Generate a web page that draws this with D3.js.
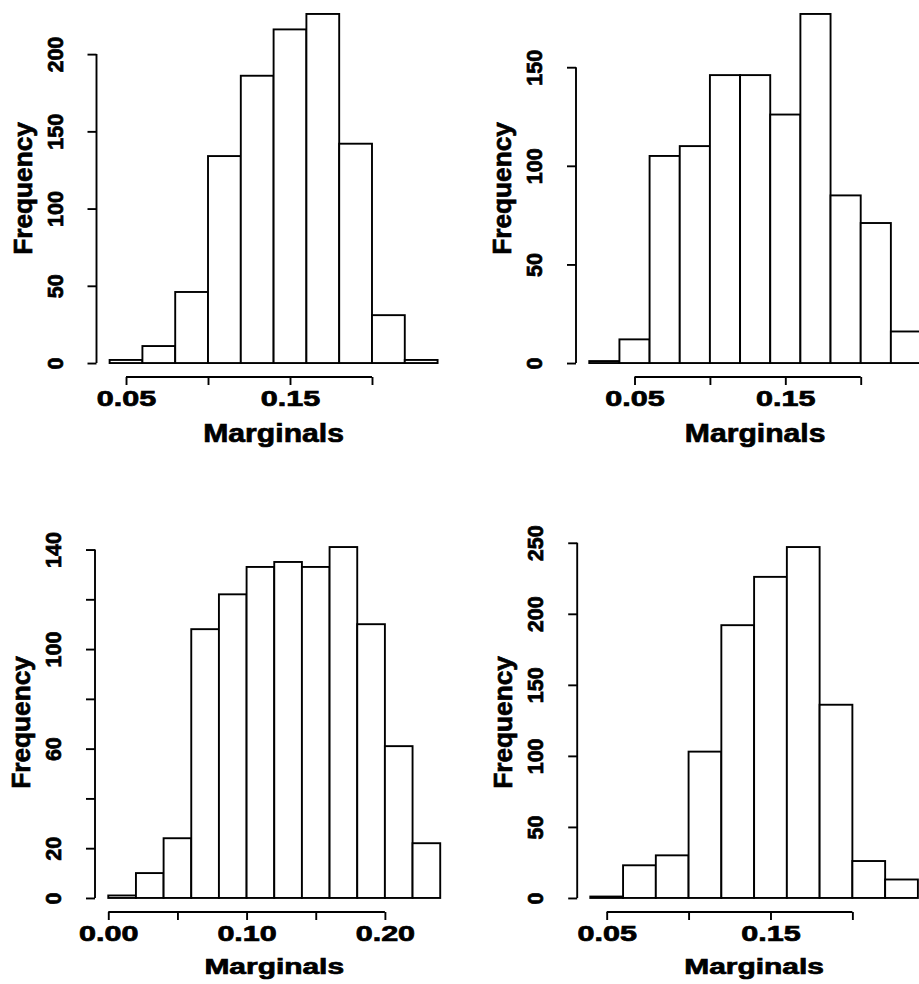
<!DOCTYPE html>
<html>
<head>
<meta charset="utf-8">
<script src="https://cdn.jsdelivr.net/npm/d3@7"></script>
<style>
  body { margin: 0; background: #fff; }
  svg { display: block; }
  text { font-family: "Liberation Sans", Arial, sans-serif; font-weight: bold; fill: #000; stroke: #000; stroke-width: 0.7; }
</style>
</head>
<body>
<svg id="chart" width="919" height="984"></svg>
<script>
// histogram data, bin edges + counts
const edgesA = [0.04, 0.06, 0.08, 0.10, 0.12, 0.14, 0.16, 0.18, 0.20, 0.22, 0.24];
const countsA = [2, 11, 46, 134, 186, 216, 226, 142, 31, 2];

const edgesB = [0.02, 0.04, 0.06, 0.08, 0.10, 0.12, 0.14, 0.16, 0.18, 0.20, 0.22, 0.24];
const countsB = [1, 12, 105, 110, 146, 146, 126, 177, 85, 71, 16];

const edgesC = [0.00, 0.02, 0.04, 0.06, 0.08, 0.10, 0.12, 0.14, 0.16, 0.18, 0.20, 0.22, 0.24];
const countsC = [1, 10, 24, 108, 122, 133, 135, 133, 141, 110, 61, 22];

const edgesD = [0.04, 0.06, 0.08, 0.10, 0.12, 0.14, 0.16, 0.18, 0.20, 0.22, 0.24];
const countsD = [1, 23, 30, 103, 192, 226, 247, 136, 26, 13];

// axis ticks and their labels (empty = tick without label, like R drops overlapping ones)
const xTicksA = [0.05, 0.10, 0.15, 0.20], xLabelsA = ["0.05", "", "0.15", ""];
const xTicksC = [0.00, 0.05, 0.10, 0.15, 0.20], xLabelsC = ["0.00", "", "0.10", "", "0.20"];
const yTicksA = [0, 50, 100, 150, 200], yLabelsA = ["0", "50", "100", "150", "200"];
const yTicksB = [0, 50, 100, 150], yLabelsB = ["0", "50", "100", "150"];
const yTicksC = [0, 20, 40, 60, 80, 100, 120, 140], yLabelsC = ["0", "20", "", "60", "", "100", "", "140"];
const yTicksD = [0, 50, 100, 150, 200, 250], yLabelsD = ["0", "50", "100", "150", "200", "250"];

const xTitle = "Marginals";
const yTitle = "Frequency";

// plot regions (R's "plt" area for each panel of the 2x2 layout)
const panels = [
  { edges: edgesA, counts: countsA, xt: xTicksA, xl: xLabelsA, yt: yTicksA, yl: yLabelsA,
    left: 96.5, right: 450.7, top: 0, bottom: 377, titleGap: 65, titleSize: 26, titleScale: 1.16 },
  { edges: edgesB, counts: countsB, xt: xTicksA, xl: xLabelsA, yt: yTicksB, yl: yLabelsB,
    left: 576, right: 934.3, top: 0, bottom: 377, titleGap: 65, titleSize: 26, titleScale: 1.16 },
  { edges: edgesC, counts: countsC, xt: xTicksC, xl: xLabelsC, yt: yTicksC, yl: yLabelsC,
    left: 95, right: 453.5, top: 533, bottom: 912, titleGap: 61.5, titleSize: 22, titleScale: 1.36 },
  { edges: edgesD, counts: countsD, xt: xTicksA, xl: xLabelsA, yt: yTicksD, yl: yLabelsD,
    left: 577.2, right: 931, top: 533, bottom: 912, titleGap: 61.5, titleSize: 22, titleScale: 1.36 }
];

const svg = d3.select("#chart");
svg.append("rect").attr("width", 919).attr("height", 984).attr("fill", "#fff");

const LW = 1.9;

panels.forEach(p => drawPanel(p));

function drawPanel(p) {
  const lo = p.edges[0], hi = p.edges[p.edges.length - 1];
  const pad = (hi - lo) * 0.04;
  const x = d3.scaleLinear().domain([lo - pad, hi + pad]).range([p.left, p.right]);
  const ymax = d3.max(p.counts);
  const y = d3.scaleLinear().domain([-0.04 * ymax, ymax * 1.04]).range([p.bottom, p.top]);

  const g = svg.append("g");

  // bars
  const bins = p.counts.map((c, i) => ({ x0: p.edges[i], x1: p.edges[i + 1], n: c }));
  g.selectAll("rect.bar")
    .data(bins)
    .join("rect")
    .attr("class", "bar")
    .attr("x", d => x(d.x0))
    .attr("width", d => x(d.x1) - x(d.x0))
    .attr("y", d => y(d.n))
    .attr("height", d => y(0) - y(d.n))
    .attr("fill", "#fff")
    .attr("stroke", "#000")
    .attr("stroke-width", LW);

  // x axis, R style: line only from first to last tick
  const xAxis = d3.axisBottom(x)
    .tickValues(p.xt)
    .tickSize(8)
    .tickFormat((d, i) => p.xl[i]);
  const xg = g.append("g")
    .attr("transform", `translate(0,${p.bottom})`)
    .call(xAxis);
  xg.select(".domain").remove();
  xg.selectAll(".tick line").attr("stroke", "#000").attr("stroke-width", LW);
  xg.append("line")
    .attr("x1", x(p.xt[0])).attr("x2", x(p.xt[p.xt.length - 1]))
    .attr("stroke", "#000").attr("stroke-width", LW);
  xg.selectAll(".tick text")
    .attr("y", 29.5)
    .attr("dy", null)
    .attr("font-size", 21.5)
    .attr("transform", "scale(1.42,1)");

  // y axis with rotated labels
  const yAxis = d3.axisLeft(y)
    .tickValues(p.yt)
    .tickSize(9)
    .tickFormat((d, i) => p.yl[i]);
  const yg = g.append("g")
    .attr("transform", `translate(${p.left},0)`)
    .call(yAxis);
  yg.select(".domain").remove();
  yg.selectAll(".tick line").attr("stroke", "#000").attr("stroke-width", LW);
  yg.append("line")
    .attr("y1", y(p.yt[0])).attr("y2", y(p.yt[p.yt.length - 1]))
    .attr("stroke", "#000").attr("stroke-width", LW);
  yg.selectAll(".tick text")
    .attr("x", null)
    .attr("dy", null)
    .attr("text-anchor", "middle")
    .attr("font-size", 21.5)
    .attr("transform", "translate(-34,0) rotate(-90)");

  // axis titles
  g.append("text")
    .attr("text-anchor", "middle")
    .attr("font-size", p.titleSize)
    .attr("transform", `translate(${(p.left + p.right) / 2},${p.bottom + p.titleGap}) scale(${p.titleScale},1)`)
    .text(xTitle);

  g.append("text")
    .attr("text-anchor", "middle")
    .attr("font-size", 25)
    .attr("transform", `translate(${p.left - 65},${(p.top + p.bottom) / 2}) rotate(-90) scale(1.05,1)`)
    .text(yTitle);
}
</script>
</body>
</html>
